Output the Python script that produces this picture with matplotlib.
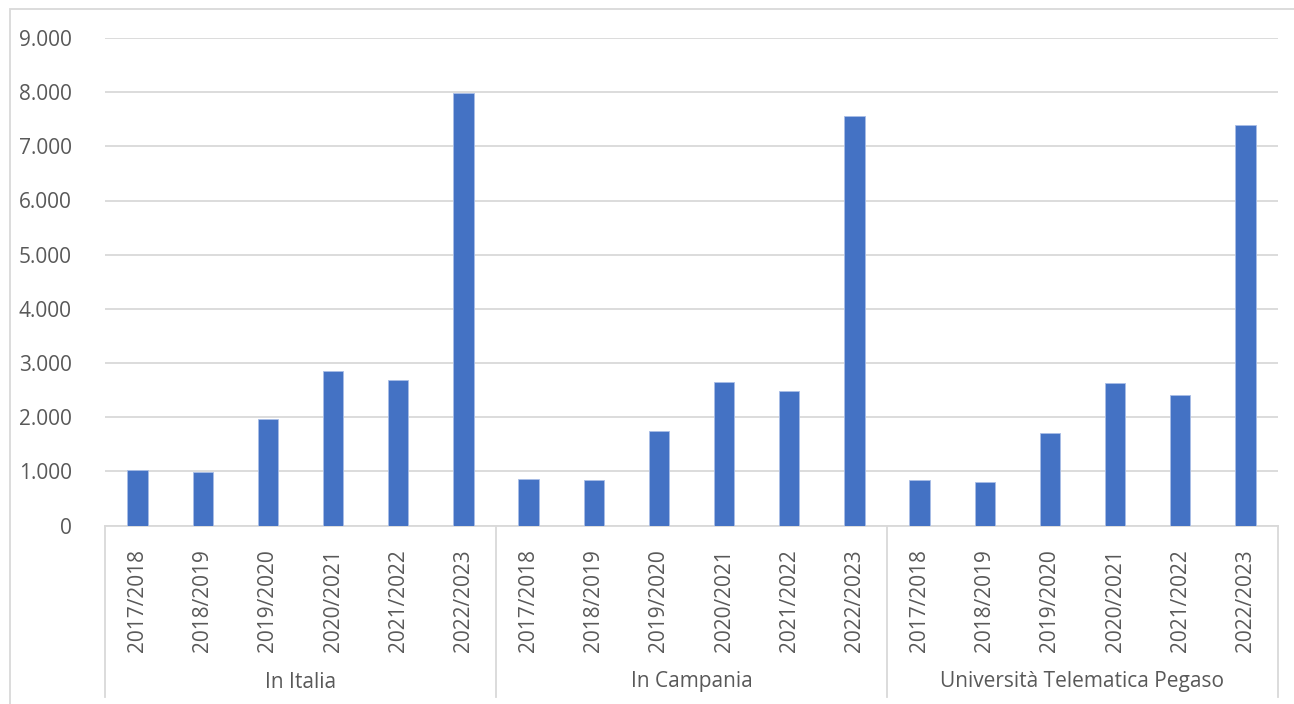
import matplotlib.pyplot as plt
from matplotlib.patches import Rectangle
from matplotlib.ticker import FuncFormatter

# data
years = ['2017/2018', '2018/2019', '2019/2020', '2020/2021', '2021/2022', '2022/2023']
groups = ['In Italia', 'In Campania', 'Università Telematica Pegaso']
italia = [1020, 995, 1960, 2846, 2680, 7980]
campania = [858, 834, 1750, 2649, 2483, 7554]
pegaso = [840, 803, 1708, 2625, 2409, 7388]

plt.rcParams['font.family'] = ['Open Sans', 'DejaVu Sans']
txt = '#595959'
grid = '#d9d9d9'
blue = '#4472c4'

W, H = 1294, 704
fig = plt.figure(figsize=(W / 100, H / 100), dpi=100)
left, right, bottom, top = 105, 1278, 525.5, 38
ax = fig.add_axes([left / W, 1 - bottom / H, (right - left) / W, (bottom - top) / H])

values = italia + campania + pegaso
n = len(values)
xs = list(range(n))
ax.bar(xs, values, width=0.31, color=blue, edgecolor='#a9bde6', linewidth=0.6, zorder=3)

ax.set_xlim(-0.5, n - 0.5)
ax.set_ylim(0, 9000)
ax.set_yticks(range(0, 9001, 1000))
ax.yaxis.set_major_formatter(FuncFormatter(lambda v, p: f'{int(v):,}'.replace(',', '.')))
ax.grid(axis='y', color=grid, linewidth=1.3, zorder=0)
ax.tick_params(axis='y', length=0, pad=24, labelsize=15, labelcolor=txt)

ax.set_xticks(xs)
ax.set_xticklabels(years * len(groups), rotation=90, fontsize=15, color=txt)
ax.tick_params(axis='x', length=0, pad=17)

for s in ['top', 'right', 'left']:
    ax.spines[s].set_visible(False)
ax.spines['bottom'].set_color(grid)
ax.spines['bottom'].set_linewidth(1.3)

# group separators and group labels below the axis
trans = ax.get_xaxis_transform()
sep_bottom = -(697 - bottom) / (bottom - top)
lab_y = -(682 - bottom) / (bottom - top)
k = len(years)
for i in range(len(groups) + 1):
    ax.plot([i * k - 0.5] * 2, [0, sep_bottom], transform=trans, color=grid,
            linewidth=1.3, clip_on=False)
for i, g in enumerate(groups):
    ax.text(i * k + (k - 1) / 2, lab_y, g, transform=trans, ha='center', va='center',
            fontsize=15, color=txt)

# chart area border
fig.patches.append(Rectangle((10 / W, -0.05), 1.1, 1 - 9 / H + 0.05, transform=fig.transFigure,
                             fill=False, edgecolor=grid, linewidth=1.3))

fig.savefig('out.png', dpi=100)
